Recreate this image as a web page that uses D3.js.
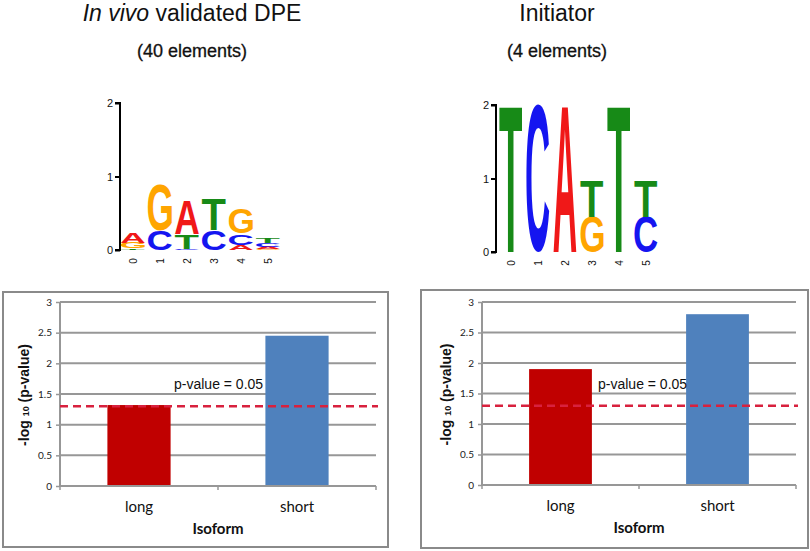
<!DOCTYPE html>
<html><head><meta charset="utf-8">
<script src="https://cdn.jsdelivr.net/npm/d3@7/dist/d3.min.js"></script>
<style>body{margin:0;background:#fff}svg{display:block}</style>
</head><body><svg id="c" width="810" height="551"></svg>
<script>
// ---------- data ----------
const positions = [0, 1, 2, 3, 4, 5];
const dpeLogo = [
  [["T", 0.02], ["G", 0.08], ["A", 0.14]],
  [["C", 0.27], ["G", 0.62]],
  [["C", 0.02], ["T", 0.20], ["A", 0.45]],
  [["C", 0.27], ["T", 0.42]],
  [["A", 0.07], ["C", 0.15], ["G", 0.34]],
  [["G", 0.01], ["A", 0.03], ["C", 0.05], ["T", 0.06]]
];
const inrLogo = [
  [["T", 2.0]],
  [["C", 2.0]],
  [["A", 2.0]],
  [["G", 0.48], ["T", 0.50]],
  [["T", 2.0]],
  [["C", 0.48], ["T", 0.50]]
];
const logoTicks = [0, 1, 2];
const isoforms = ["long", "short"];
const dpeValues = [1.32, 2.45];
const inrValues = [1.90, 2.80];
const yTicks = [0, 0.5, 1, 1.5, 2, 2.5, 3];
const threshold = 1.30;
const baseColors = {A: "#f01818", C: "#1515f0", G: "#ffa500", T: "#178a17"};
const barColors = ["#c00000", "#4f81bd"];

const svg = d3.select("#c");
const LFONT = "Liberation Sans, Arial, sans-serif";
const XFONT = "Lato, Liberation Sans, sans-serif";

// ---------- titles ----------
function title(cx, y1, y2, parts, sub) {
  const t = svg.append("text").attr("x", cx).attr("y", y1).attr("text-anchor", "middle")
    .attr("font-family", LFONT).attr("font-size", 23).attr("fill", "#111");
  parts.forEach(p => t.append("tspan").text(p[0]).attr("font-style", p[1] ? "italic" : "normal"));
  svg.append("text").attr("x", cx).attr("y", y2).attr("text-anchor", "middle")
    .attr("font-family", LFONT).attr("font-size", 18).attr("fill", "#111")
    .attr("stroke", "#111").attr("stroke-width", 0.3).text(sub);
}
title(192, 21, 57, [["In vivo", true], [" validated DPE", false]], "(40 elements)");
title(557, 21, 57, [["Initiator", false]], "(4 elements)");

// ---------- sequence logos ----------
const cv = document.createElement("canvas").getContext("2d");
cv.font = "bold 100px 'Liberation Sans'";
const metrics = {};
"ACGT".split("").forEach(b => {
  const m = cv.measureText(b);
  metrics[b] = {l: m.actualBoundingBoxLeft, r: m.actualBoundingBoxRight,
                a: m.actualBoundingBoxAscent, d: m.actualBoundingBoxDescent};
});

function logo(data, axisX, yTop, yBottom, firstX, letterW) {
  const g = svg.append("g");
  const y = d3.scaleLinear().domain([0, 2]).range([yBottom, yTop]);
  const x = d3.scalePoint().domain(positions).range([firstX, firstX + 27 * 5]);
  // axis
  const ax = g.append("g").attr("transform", `translate(${axisX},0)`)
    .call(d3.axisLeft(y).tickValues(logoTicks).tickSize(5).tickFormat(d3.format("d")));
  ax.select(".domain").attr("stroke", "#000").attr("stroke-width", 2).attr("d", `M-5,${yTop}H0V${yBottom}H-5`);
  ax.selectAll(".tick line").attr("stroke", "#000").attr("stroke-width", 2);
  ax.selectAll(".tick text").attr("font-family", LFONT).attr("font-size", 11).attr("x", -7).attr("fill", "#111");
  // x labels
  positions.forEach(p => {
    g.append("text").attr("transform", `translate(${x(p)},${yBottom + 11}) rotate(-90)`)
      .attr("text-anchor", "middle").attr("dominant-baseline", "central")
      .attr("font-family", LFONT).attr("font-size", 10).attr("fill", "#111").text(p);
  });
  // letters
  data.forEach((stack, i) => {
    let cum = 0;
    stack.forEach(([b, h]) => {
      const y0 = y(cum), y1 = y(cum + h);
      cum += h;
      const hh = y0 - y1;
      if (hh <= 0) return;
      const m = metrics[b];
      const sx = letterW / (m.l + m.r);
      const sy = hh / (m.a + m.d);
      const x0 = x(positions[i]) - letterW / 2;
      g.append("text").text(b)
        .attr("font-family", "Liberation Sans").attr("font-weight", "bold").attr("font-size", 100)
        .attr("fill", baseColors[b])
        .attr("transform", `translate(${x0 + m.l * sx},${y0 - m.d * sy}) scale(${sx},${sy})`);
    });
  });
}
logo(dpeLogo, 120, 103, 250, 133, 24);
logo(inrLogo, 496, 105, 252, 511, 23);

// ---------- bar charts ----------
function barPanel(box, left, right, top, bottom, values, labelX) {
  const g = svg.append("g");
  g.append("rect").attr("x", box[0]).attr("y", box[1]).attr("width", box[2]).attr("height", box[3])
    .attr("fill", "#fff").attr("stroke", "#8a8a8a").attr("stroke-width", 2);
  const x = d3.scaleBand().domain(isoforms).range([left, right]).paddingInner(0.6).paddingOuter(0.3);
  const y = d3.scaleLinear().domain([0, 3]).range([bottom, top]);
  // gridlines
  g.append("g").selectAll("line").data(yTicks.filter(d => d > 0)).join("line")
    .attr("x1", left).attr("x2", right).attr("y1", d => y(d)).attr("y2", d => y(d))
    .attr("stroke", "#979797").attr("stroke-width", 2);
  // bars
  g.append("g").selectAll("rect").data(values).join("rect")
    .attr("x", (d, i) => x(isoforms[i])).attr("width", x.bandwidth())
    .attr("y", d => y(d)).attr("height", d => y(0) - y(d))
    .attr("fill", (d, i) => barColors[i]);
  // y axis
  const ya = g.append("g").attr("transform", `translate(${left},0)`)
    .call(d3.axisLeft(y).tickValues(yTicks).tickSize(4).tickFormat(d => String(d)));
  ya.select(".domain").attr("stroke", "#979797").attr("stroke-width", 2).attr("d", `M0,${top}V${bottom}`);
  ya.selectAll(".tick line").attr("stroke", "#979797").attr("stroke-width", 1.5);
  ya.selectAll(".tick text").attr("font-family", XFONT).attr("font-size", 10).attr("fill", "#222").attr("x", -8);
  // x axis
  const xb = d3.scaleLinear().domain([0, 2]).range([left, right]);
  g.append("line").attr("x1", left).attr("x2", right).attr("y1", bottom).attr("y2", bottom)
    .attr("stroke", "#979797").attr("stroke-width", 2);
  g.append("g").selectAll("line").data([0, 1, 2]).join("line")
    .attr("x1", d => xb(d)).attr("x2", d => xb(d)).attr("y1", bottom).attr("y2", bottom + 4)
    .attr("stroke", "#979797").attr("stroke-width", 1.5);
  isoforms.forEach(c => {
    g.append("text").attr("x", x(c) + x.bandwidth() / 2).attr("y", bottom + 26).attr("text-anchor", "middle")
      .attr("font-family", XFONT).attr("font-size", 15).attr("fill", "#111").text(c);
  });
  g.append("text").attr("x", (left + right) / 2).attr("y", bottom + 48).attr("text-anchor", "middle")
    .attr("font-family", XFONT).attr("font-weight", "bold").attr("font-size", 15).attr("fill", "#111").text("Isoform");
  // y label
  const yl = g.append("text").attr("transform", `translate(${left - 31},${(top + bottom) / 2 + 1}) rotate(-90)`)
    .attr("text-anchor", "middle").attr("font-family", LFONT).attr("font-weight", "bold")
    .attr("font-size", 14).attr("fill", "#111");
  yl.append("tspan").text("-log ");
  yl.append("tspan").text("10").attr("font-size", 9);
  yl.append("tspan").text(" (p-value)");
  // threshold
  g.append("line").attr("x1", left).attr("x2", right + 2).attr("y1", y(threshold)).attr("y2", y(threshold))
    .attr("stroke", "#d8213e").attr("stroke-width", 2.5).attr("stroke-dasharray", "8,5");
  g.append("text").attr("x", labelX).attr("y", y(1.58)).attr("font-family", LFONT).attr("font-size", 14)
    .attr("fill", "#111").text("p-value = 0.05");
}
barPanel([3, 292, 385, 255], 60, 376, 302, 486, dpeValues, 174);
barPanel([421, 290, 387, 258], 482, 796, 302, 485, inrValues, 598);
</script></body></html>
